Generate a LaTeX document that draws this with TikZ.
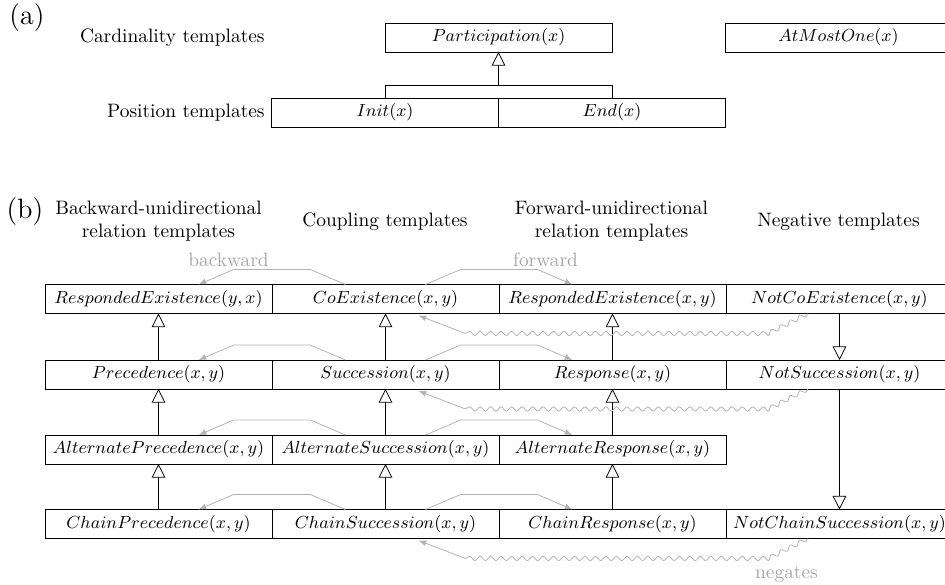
\RequirePackage{fix-cm}
\documentclass[tikz,border=0pt]{standalone}
\usetikzlibrary{positioning, calc, arrows.meta, decorations.pathmorphing}

\tikzset{
    tmpl/.style = {draw, minimum width = 116.9pt, minimum height = 14.9pt, inner sep = 0pt, outer sep = 0pt,
        font = \small},
    isa/.style = {-{Triangle[open, length = 7pt, width = 7pt]}},
    rel/.style = {gray!60, -{Latex[length = 4pt, width = 3pt]}},
    neg/.style = {gray!60, -{Latex[length = 4pt, width = 3pt]}, decorate,
        decoration = {snake, amplitude = 1.1pt, segment length = 5.4pt, post length = 25pt}},
    lbl/.style = {text = gray!70},
    hdr/.style = {align = center}
}

\begin{document}
\begin{tikzpicture}[x = 0.515pt, y = -0.515pt]
    \clip (0, 0) rectangle (945, 585);

    % (a)
    \node[font = \Large] (a) at (27, 18) {(a)};
    \node[tmpl] (part) at (498.5, 37.5) {$Participation(x)$};
    \node[tmpl] (amo) at (838.5, 37.5) {$AtMostOne(x)$};
    \node[tmpl] (init) at (385, 112.5) {$Init(x)$};
    \node[tmpl, right = 0pt of init] (endt) {$End(x)$};
    \node[left = 0pt of init] (lpos) {Position templates};
    \node[anchor = east] (lcard) at (init.west |- part.west) {Cardinality templates};

    \draw (init.north) -- ++(0, -13) coordinate (jl) -| (endt.north);
    \coordinate (ij) at ($(jl)!0.5!(jl -| endt.north)$);
    \draw[isa] (ij) -- (part.south);

    % (b)
    \node[font = \Large] (b) at (25, 212) {(b)};
    \node[hdr] (hbw) at (158.5, 221) {Backward-unidirectional\\relation templates};
    \node[hdr] (hcp) at (385, 222) {Coupling templates};
    \node[hdr] (hfw) at (611.5, 221) {Forward-unidirectional\\relation templates};
    \node[hdr] (hng) at (838.5, 222) {Negative templates};

    \node[tmpl] (bre) at (158.5, 299) {$RespondedExistence(y, x)$};
    \node[tmpl, right = 0pt of bre] (coex) {$CoExistence(x, y)$};
    \node[tmpl, right = 0pt of coex] (fre) {$RespondedExistence(x, y)$};
    \node[tmpl, right = 0pt of fre] (ncoex) {$NotCoExistence(x, y)$};

    \node[tmpl] (prec) at (158.5, 374.5) {$Precedence(x, y)$};
    \node[tmpl, right = 0pt of prec] (succ) {$Succession(x, y)$};
    \node[tmpl, right = 0pt of succ] (resp) {$Response(x, y)$};
    \node[tmpl, right = 0pt of resp] (nsucc) {$NotSuccession(x, y)$};

    \node[tmpl] (aprec) at (158.5, 449.5) {$AlternatePrecedence(x, y)$};
    \node[tmpl, right = 0pt of aprec] (asucc) {$AlternateSuccession(x, y)$};
    \node[tmpl, right = 0pt of asucc] (aresp) {$AlternateResponse(x, y)$};

    \node[tmpl] (cprec) at (158.5, 524) {$ChainPrecedence(x, y)$};
    \node[tmpl, right = 0pt of cprec] (csucc) {$ChainSuccession(x, y)$};
    \node[tmpl, right = 0pt of csucc] (cresp) {$ChainResponse(x, y)$};
    \node[tmpl, right = 0pt of cresp] (ncsucc) {$NotChainSuccession(x, y)$};

    \foreach \lo/\hi in {prec/bre, aprec/prec, cprec/aprec, succ/coex, asucc/succ, csucc/asucc, resp/fre, aresp/resp, cresp/aresp}
        \draw[isa] (\lo.north) -- (\lo.north |- \hi.south);
    \draw[isa] (ncoex.south) -- (ncoex.south |- nsucc.north);
    \draw[isa] (nsucc.south) -- (nsucc.south |- ncsucc.north);

    \foreach \c/\l/\r in {coex/bre/fre, succ/prec/resp, asucc/aprec/aresp, csucc/cprec/cresp}{
        \draw[rel] ($(\c.north) + (-40, 0)$) -- ++(-35, -15) -- ++(-77, 0) -- ($(\l.north) + (40, 0)$);
        \draw[rel] ($(\c.north) + (40, 0)$) -- ++(35, -15) -- ++(77, 0) -- ($(\r.north) + (-40, 0)$);
    }
    \node[lbl, anchor = base] (lbw) at ($(coex.north) + (-157, -18)$) {backward};
    \node[lbl, anchor = base] (lfw) at ($(coex.north) + (160, -18)$) {forward};

    \foreach \n/\c in {ncoex/coex, nsucc/succ, ncsucc/csucc}
        \draw[neg] ($(\n.south) + (-31.5, 0)$) -- ++(-40, 20) -- ++(-304, 0) -- ($(\c.south) + (33, 2)$);
    \node[lbl] (lng) at ($(ncsucc.south) + (-53, 36)$) {negates};
\end{tikzpicture}
\end{document}
